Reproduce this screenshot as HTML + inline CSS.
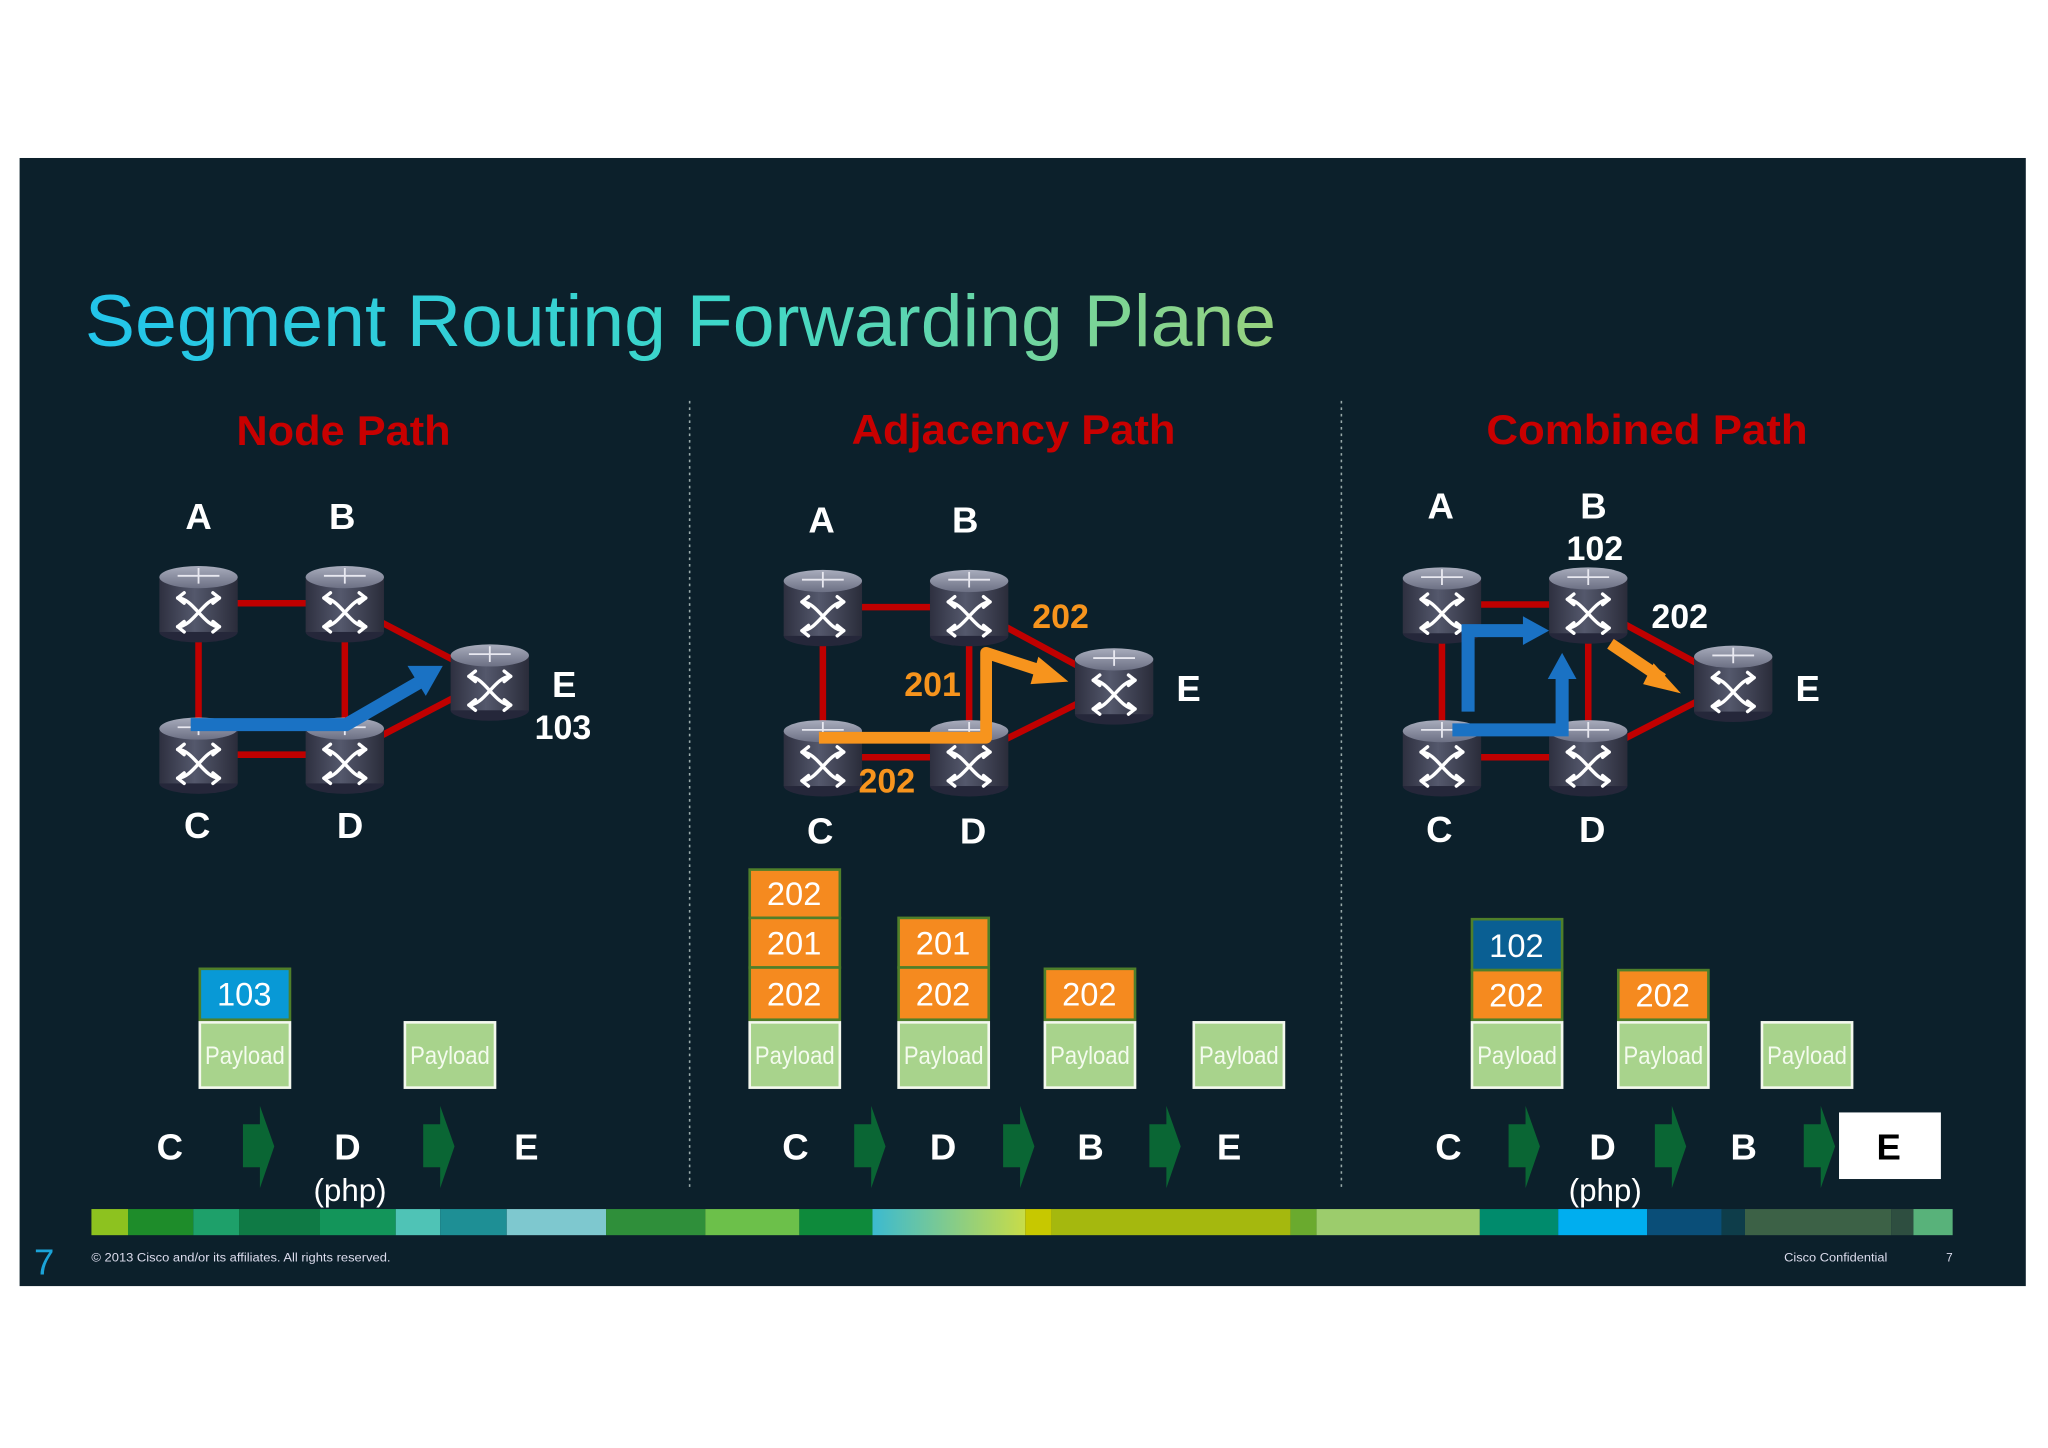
<!DOCTYPE html>
<html><head><meta charset="utf-8"><style>
html,body{margin:0;padding:0;background:#fff;}
svg{display:block;}
text{font-family:"Liberation Sans",Arial,sans-serif;}
</style></head><body>
<svg width="2048" height="1448" viewBox="0 0 1568 1109" preserveAspectRatio="none" xmlns="http://www.w3.org/2000/svg">
<defs>
<linearGradient id="tg" x1="0" x2="1" y1="0" y2="0">
<stop offset="0" stop-color="#22c4ea"/><stop offset="0.55" stop-color="#3fd8c8"/><stop offset="1" stop-color="#98d27e"/>
</linearGradient>
<linearGradient id="body" x1="0" x2="1">
<stop offset="0" stop-color="#2e3040"/><stop offset="0.45" stop-color="#54586c"/><stop offset="1" stop-color="#2a2c3a"/>
</linearGradient>
<linearGradient id="top" x1="0" x2="0" y1="0" y2="1">
<stop offset="0" stop-color="#a8acbc"/><stop offset="1" stop-color="#6c7084"/>
</linearGradient>
<linearGradient id="bar" x1="0" x2="1">
<stop offset="0" stop-color="#3cbad0"/><stop offset="1" stop-color="#c8dc48"/>
</linearGradient>
<g id="r">
<ellipse cx="0" cy="22" rx="30" ry="8" fill="#25273a"/>
<rect x="-30" y="-20" width="60" height="42" fill="url(#body)"/>
<ellipse cx="0" cy="-20" rx="30" ry="8.5" fill="url(#top)"/>
<g stroke="#e8e8f0" stroke-width="1.4" fill="none">
<path d="M-16 -21 H16 M0 -27 V-15"/>
</g>
<g stroke="#fff" stroke-width="2.6" fill="none" stroke-linecap="round" stroke-linejoin="round">
<path d="M-16 -4 C-4 -4 4 18 16 18 M-16 18 C-4 18 4 -4 16 -4"/>
<path d="M-11 -8 L-16 -4 L-11 0 M11 -8 L16 -4 L11 0 M-11 14 L-16 18 L-11 22 M11 14 L16 18 L11 22"/>
</g>
</g>
<g id="ga"><polygon points="0,861 13,861 13,847 24,878 13,910 13,894 0,894" fill="#0a6634"/></g>
</defs>

<rect x="15" y="121" width="1536" height="864" fill="#0c202b"/>
<text x="65" y="265" font-size="56" fill="url(#tg)" textLength="912" lengthAdjust="spacingAndGlyphs">Segment Routing Forwarding Plane</text>

<line x1="528" y1="307" x2="528" y2="912" stroke="#9aa" stroke-width="1.2" stroke-dasharray="2,3"/>
<line x1="1027" y1="307" x2="1027" y2="912" stroke="#9aa" stroke-width="1.2" stroke-dasharray="2,3"/>

<g font-weight="bold" font-size="32" fill="#c80000">
<text x="181" y="341" textLength="164" lengthAdjust="spacingAndGlyphs">Node Path</text>
<text x="652" y="340" textLength="248" lengthAdjust="spacingAndGlyphs">Adjacency Path</text>
<text x="1138" y="340" textLength="246" lengthAdjust="spacingAndGlyphs">Combined Path</text>
</g>

<!-- Panel 1 -->
<g stroke="#c00000" stroke-width="5">
<line x1="152" y1="462" x2="264" y2="462"/><line x1="152" y1="462" x2="152" y2="578"/>
<line x1="264" y1="462" x2="264" y2="578"/><line x1="152" y1="578" x2="264" y2="578"/>
<line x1="264" y1="462" x2="375" y2="520"/><line x1="264" y1="578" x2="375" y2="520"/>
</g>
<use href="#r" x="152" y="462"/><use href="#r" x="264" y="462"/>
<use href="#r" x="152" y="578"/><use href="#r" x="264" y="578"/><use href="#r" x="375" y="522"/>
<polyline points="146,555 265,555 322,522" fill="none" stroke="#1a72c4" stroke-width="10"/>
<polygon points="312,510 339,510 326,533" fill="#1a72c4"/>
<g font-weight="bold" font-size="28" fill="#fff" text-anchor="middle">
<text x="152" y="405">A</text><text x="262" y="405">B</text>
<text x="151" y="642">C</text><text x="268" y="642">D</text>
<text x="432" y="534">E</text><text x="431" y="566" font-size="26">103</text>
</g>

<!-- Panel 2 -->
<g stroke="#c00000" stroke-width="5">
<line x1="630" y1="465" x2="742" y2="465"/><line x1="630" y1="465" x2="630" y2="580"/>
<line x1="742" y1="465" x2="742" y2="580"/><line x1="630" y1="580" x2="742" y2="580"/>
<line x1="742" y1="465" x2="853" y2="525"/><line x1="742" y1="580" x2="853" y2="525"/>
</g>
<use href="#r" x="630" y="465"/><use href="#r" x="742" y="465"/>
<use href="#r" x="630" y="580"/><use href="#r" x="742" y="580"/><use href="#r" x="853" y="525"/>
<polyline points="627,565 755,565 755,500 798,514" fill="none" stroke="#f7941d" stroke-width="9" stroke-linejoin="round"/>
<polygon points="795,503 818,522 789,524" fill="#f7941d"/>
<g font-weight="bold" font-size="28" fill="#fff" text-anchor="middle">
<text x="629" y="408">A</text><text x="739" y="408">B</text>
<text x="628" y="646">C</text><text x="745" y="646">D</text>
<text x="910" y="537">E</text>
</g>
<g font-weight="bold" font-size="26" fill="#f7941d" text-anchor="middle">
<text x="812" y="481">202</text><text x="714" y="533">201</text><text x="679" y="607">202</text>
</g>

<!-- Panel 3 -->
<g stroke="#c00000" stroke-width="5">
<line x1="1104" y1="463" x2="1216" y2="463"/><line x1="1104" y1="463" x2="1104" y2="580"/>
<line x1="1216" y1="463" x2="1216" y2="580"/><line x1="1104" y1="580" x2="1216" y2="580"/>
<line x1="1216" y1="463" x2="1327" y2="523"/><line x1="1216" y1="580" x2="1327" y2="523"/>
</g>
<use href="#r" x="1104" y="463"/><use href="#r" x="1216" y="463"/>
<use href="#r" x="1104" y="580"/><use href="#r" x="1216" y="580"/><use href="#r" x="1327" y="523"/>
<polyline points="1124,545 1124,483 1168,483" fill="none" stroke="#1a72c4" stroke-width="10"/>
<polygon points="1166,472 1186,483 1166,494" fill="#1a72c4"/>
<polyline points="1112,559 1196,559 1196,518" fill="none" stroke="#1a72c4" stroke-width="10"/>
<polygon points="1185,520 1196,500 1207,520" fill="#1a72c4"/>
<line x1="1233" y1="493" x2="1273" y2="520" stroke="#f7941d" stroke-width="9"/>
<polygon points="1266,508 1287,531 1258,524" fill="#f7941d"/>
<g font-weight="bold" font-size="28" fill="#fff" text-anchor="middle">
<text x="1103" y="397">A</text><text x="1220" y="397">B</text>
<text x="1221" y="429" font-size="26">102</text><text x="1286" y="481" font-size="26">202</text>
<text x="1102" y="645">C</text><text x="1219" y="645">D</text>
<text x="1384" y="537">E</text>
</g>

<!-- Stacks -->
<g font-size="25" fill="#fff" text-anchor="middle">
<g stroke="#f4f8ee" stroke-width="2" fill="#a8d38c">
<rect x="153" y="783" width="69" height="50"/><rect x="310" y="783" width="69" height="50"/>
<rect x="574" y="783" width="69" height="50"/><rect x="688" y="783" width="69" height="50"/>
<rect x="800" y="783" width="69" height="50"/><rect x="914" y="783" width="69" height="50"/>
<rect x="1127" y="783" width="69" height="50"/><rect x="1239" y="783" width="69" height="50"/>
<rect x="1349" y="783" width="69" height="50"/>
</g>
<g font-size="19" fill="#f4fbee" text-anchor="start">
<text x="157" y="815" textLength="61" lengthAdjust="spacingAndGlyphs">Payload</text>
<text x="314" y="815" textLength="61" lengthAdjust="spacingAndGlyphs">Payload</text>
<text x="578" y="815" textLength="61" lengthAdjust="spacingAndGlyphs">Payload</text>
<text x="692" y="815" textLength="61" lengthAdjust="spacingAndGlyphs">Payload</text>
<text x="804" y="815" textLength="61" lengthAdjust="spacingAndGlyphs">Payload</text>
<text x="918" y="815" textLength="61" lengthAdjust="spacingAndGlyphs">Payload</text>
<text x="1131" y="815" textLength="61" lengthAdjust="spacingAndGlyphs">Payload</text>
<text x="1243" y="815" textLength="61" lengthAdjust="spacingAndGlyphs">Payload</text>
<text x="1353" y="815" textLength="61" lengthAdjust="spacingAndGlyphs">Payload</text>
</g>
<g stroke="#4f7f2a" stroke-width="2">
<rect x="153" y="742" width="69" height="39" fill="#0899d6"/>
<rect x="574" y="666" width="69" height="37" fill="#f58a1f"/>
<rect x="574" y="703" width="69" height="38" fill="#f58a1f"/>
<rect x="574" y="741" width="69" height="40" fill="#f58a1f"/>
<rect x="688" y="703" width="69" height="38" fill="#f58a1f"/>
<rect x="688" y="741" width="69" height="40" fill="#f58a1f"/>
<rect x="800" y="742" width="69" height="39" fill="#f58a1f"/>
<rect x="1127" y="704" width="69" height="39" fill="#0a5f93"/>
<rect x="1127" y="743" width="69" height="38" fill="#f58a1f"/>
<rect x="1239" y="743" width="69" height="38" fill="#f58a1f"/>
</g>
<text x="187" y="770">103</text>
<text x="608" y="693">202</text><text x="608" y="731">201</text><text x="608" y="770">202</text>
<text x="722" y="731">201</text><text x="722" y="770">202</text>
<text x="834" y="770">202</text>
<text x="1161" y="733">102</text><text x="1161" y="771">202</text>
<text x="1273" y="771">202</text>
</g>

<!-- Sequences -->
<use href="#ga" x="186"/><use href="#ga" x="324"/>
<use href="#ga" x="654"/><use href="#ga" x="768"/><use href="#ga" x="880"/>
<use href="#ga" x="1155"/><use href="#ga" x="1267"/><use href="#ga" x="1381"/>
<rect x="1408" y="852" width="78" height="51" fill="#fff"/>
<g font-weight="bold" font-size="28" fill="#fff" text-anchor="middle">
<text x="130" y="888">C</text><text x="266" y="888">D</text><text x="403" y="888">E</text>
<text x="609" y="888">C</text><text x="722" y="888">D</text><text x="835" y="888">B</text><text x="941" y="888">E</text>
<text x="1109" y="888">C</text><text x="1227" y="888">D</text><text x="1335" y="888">B</text>
<text x="1446" y="888" fill="#000">E</text>
</g>
<g font-size="24" fill="#fff" text-anchor="middle">
<text x="268" y="920">(php)</text><text x="1229" y="920">(php)</text>
</g>

<!-- color bar -->
<g>
<rect x="70" y="926" width="28" height="20" fill="#8dc21f"/>
<rect x="98" y="926" width="50" height="20" fill="#1e8c2a"/>
<rect x="148" y="926" width="35" height="20" fill="#1ea06a"/>
<rect x="183" y="926" width="62" height="20" fill="#0f7a45"/>
<rect x="245" y="926" width="58" height="20" fill="#13955a"/>
<rect x="303" y="926" width="34" height="20" fill="#4fc3b6"/>
<rect x="337" y="926" width="51" height="20" fill="#1e8f95"/>
<rect x="388" y="926" width="76" height="20" fill="#7ec8cf"/>
<rect x="464" y="926" width="76" height="20" fill="#2f8f3a"/>
<rect x="540" y="926" width="72" height="20" fill="#6cc04a"/>
<rect x="612" y="926" width="56" height="20" fill="#0e8a3b"/>
<rect x="668" y="926" width="117" height="20" fill="url(#bar)"/>
<rect x="785" y="926" width="20" height="20" fill="#c7c800"/>
<rect x="805" y="926" width="183" height="20" fill="#a5b80e"/>
<rect x="988" y="926" width="20" height="20" fill="#6aaa2e"/>
<rect x="1008" y="926" width="125" height="20" fill="#9ccc6c"/>
<rect x="1133" y="926" width="60" height="20" fill="#008b6c"/>
<rect x="1193" y="926" width="68" height="20" fill="#00aeef"/>
<rect x="1261" y="926" width="57" height="20" fill="#0a4e78"/>
<rect x="1318" y="926" width="18" height="20" fill="#0e3d4a"/>
<rect x="1336" y="926" width="112" height="20" fill="#3c6146"/>
<rect x="1448" y="926" width="17" height="20" fill="#2e4e40"/>
<rect x="1465" y="926" width="30" height="20" fill="#58b27a"/>
</g>

<text x="26" y="976" font-size="28" fill="#1ba3d8">7</text>
<text x="70" y="966" font-size="9" fill="#dde" textLength="229" lengthAdjust="spacingAndGlyphs">© 2013  Cisco and/or its affiliates.  All rights reserved.</text>
<text x="1366" y="966" font-size="9" fill="#dde" textLength="79" lengthAdjust="spacingAndGlyphs">Cisco Confidential</text>
<text x="1490" y="966" font-size="9" fill="#dde">7</text>
</svg>
</body></html>
